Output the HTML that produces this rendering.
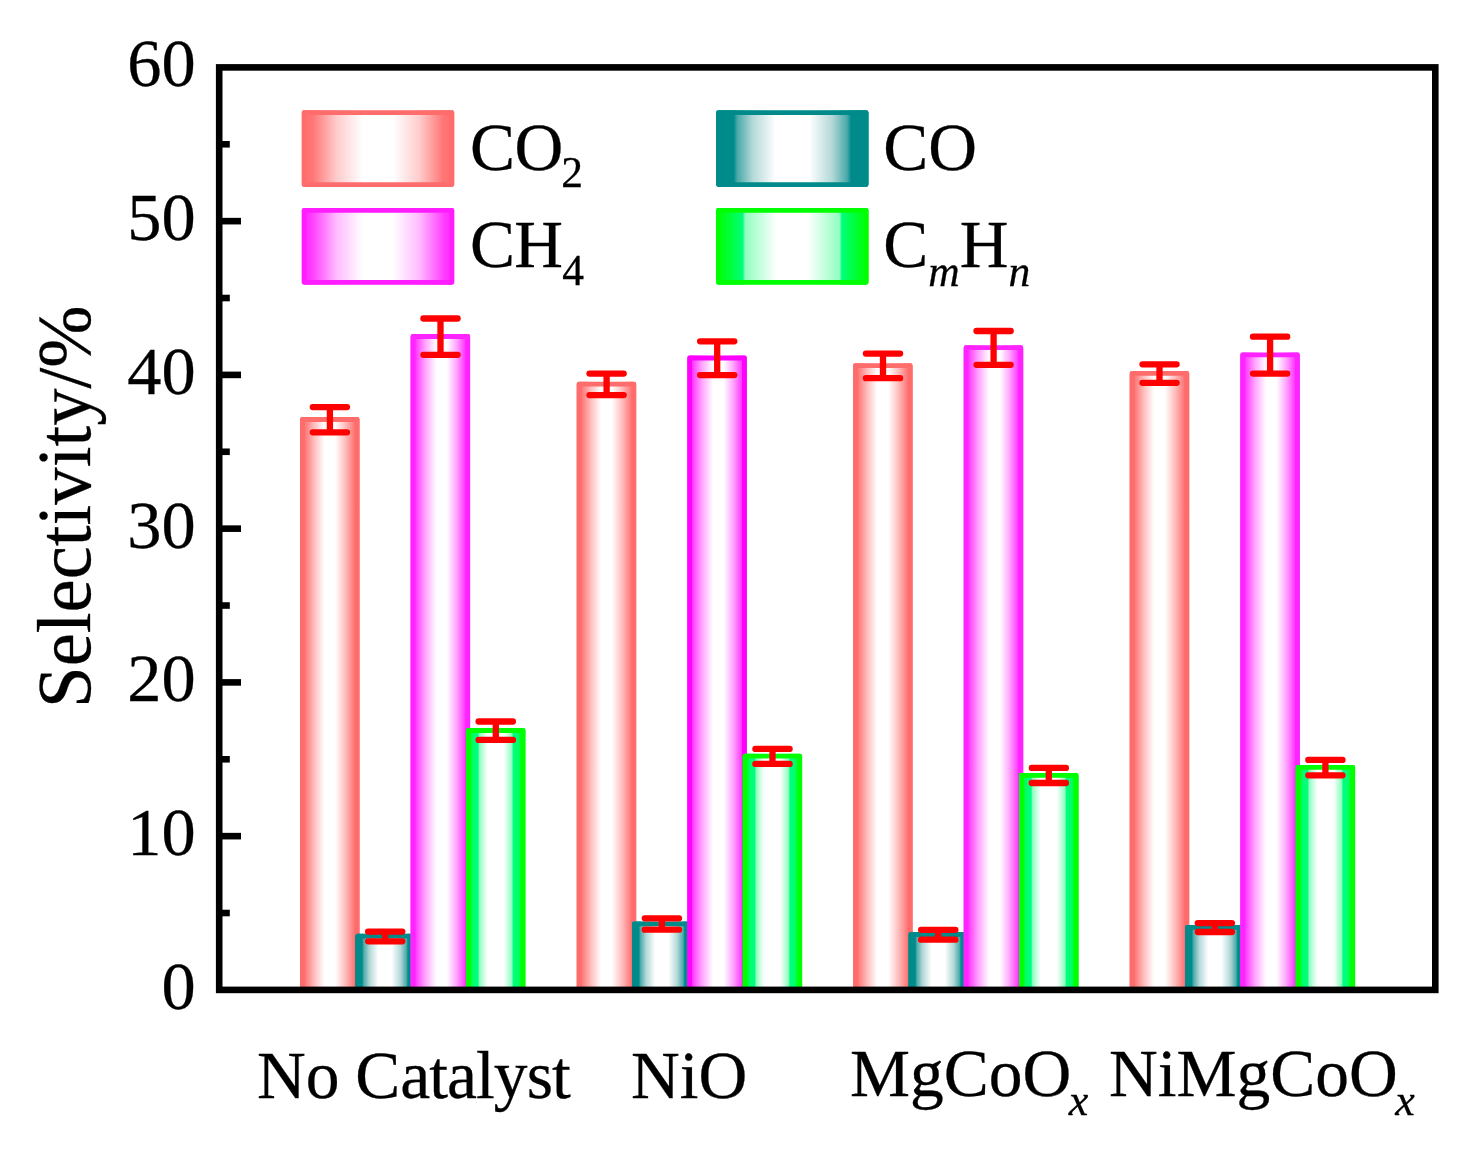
<!DOCTYPE html>
<html><head><meta charset="utf-8"><title>Selectivity</title>
<style>
html,body{margin:0;padding:0;background:#fff;}
svg{display:block;}
text{font-family:"Liberation Serif",serif;fill:#000;stroke:#000;stroke-width:0.3px;}
.it{font-style:italic;}
</style></head><body>
<svg width="1477" height="1154" viewBox="0 0 1477 1154">
<defs>
<linearGradient id="g0" x1="0" x2="1" y1="0" y2="0">
<stop offset="0" stop-color="#ff7070"/><stop offset="0.07" stop-color="#ff7575"/><stop offset="0.23" stop-color="#ffcccc"/><stop offset="0.40" stop-color="#fff"/><stop offset="0.60" stop-color="#fff"/><stop offset="0.77" stop-color="#ffcccc"/><stop offset="0.93" stop-color="#ff7575"/><stop offset="1" stop-color="#ff7070"/>
</linearGradient>
<linearGradient id="g1" x1="0" x2="1" y1="0" y2="0">
<stop offset="0" stop-color="#008b8b"/><stop offset="0.115" stop-color="#008b8b"/><stop offset="0.14" stop-color="#4aa9a9"/><stop offset="0.24" stop-color="#b4d8d8"/><stop offset="0.39" stop-color="#fff"/><stop offset="0.61" stop-color="#fff"/><stop offset="0.76" stop-color="#b4d8d8"/><stop offset="0.86" stop-color="#4aa9a9"/><stop offset="0.885" stop-color="#008b8b"/><stop offset="1" stop-color="#008b8b"/>
</linearGradient>
<linearGradient id="g2" x1="0" x2="1" y1="0" y2="0">
<stop offset="0" stop-color="#ff2cff"/><stop offset="0.06" stop-color="#ff38ff"/><stop offset="0.23" stop-color="#ffbcff"/><stop offset="0.40" stop-color="#fff"/><stop offset="0.60" stop-color="#fff"/><stop offset="0.77" stop-color="#ffbcff"/><stop offset="0.94" stop-color="#ff38ff"/><stop offset="1" stop-color="#ff2cff"/>
</linearGradient>
<linearGradient id="g3" x1="0" x2="1" y1="0" y2="0">
<stop offset="0" stop-color="#00ff00"/><stop offset="0.08" stop-color="#00ff30"/><stop offset="0.175" stop-color="#00ff7c"/><stop offset="0.19" stop-color="#90ffc0"/><stop offset="0.40" stop-color="#fff"/><stop offset="0.60" stop-color="#fff"/><stop offset="0.81" stop-color="#90ffc0"/><stop offset="0.825" stop-color="#00ff7c"/><stop offset="0.92" stop-color="#00ff30"/><stop offset="1" stop-color="#00ff00"/>
</linearGradient>
<linearGradient id="g3b" x1="0" x2="1" y1="0" y2="0">
<stop offset="0" stop-color="#00ff00"/><stop offset="0.06" stop-color="#00ff10"/><stop offset="0.12" stop-color="#00ff6c"/><stop offset="0.205" stop-color="#00ff80"/><stop offset="0.225" stop-color="#8cffbe"/><stop offset="0.365" stop-color="#fff"/><stop offset="0.635" stop-color="#fff"/><stop offset="0.775" stop-color="#8cffbe"/><stop offset="0.795" stop-color="#00ff80"/><stop offset="0.88" stop-color="#00ff6c"/><stop offset="0.94" stop-color="#00ff10"/><stop offset="1" stop-color="#00ff00"/>
</linearGradient>
<linearGradient id="g0b" x1="0" x2="1" y1="0" y2="0">
<stop offset="0" stop-color="#ff7070"/><stop offset="0.08" stop-color="#ff7474"/><stop offset="0.25" stop-color="#ffc2c2"/><stop offset="0.41" stop-color="#fff"/><stop offset="0.59" stop-color="#fff"/><stop offset="0.75" stop-color="#ffc2c2"/><stop offset="0.92" stop-color="#ff7474"/><stop offset="1" stop-color="#ff7070"/>
</linearGradient>
<linearGradient id="g2b" x1="0" x2="1" y1="0" y2="0">
<stop offset="0" stop-color="#ff28ff"/><stop offset="0.08" stop-color="#ff36ff"/><stop offset="0.25" stop-color="#ffa6ff"/><stop offset="0.435" stop-color="#fff"/><stop offset="0.61" stop-color="#fff"/><stop offset="0.77" stop-color="#ffa6ff"/><stop offset="0.92" stop-color="#ff36ff"/><stop offset="1" stop-color="#ff28ff"/>
</linearGradient>
</defs>
<rect x="0" y="0" width="1477" height="1154" fill="#fff"/>

<g stroke-linejoin="round">
<rect x="300.0" y="417.1" width="59.5" height="572.8" fill="url(#g0b)" rx="2.4"/>
<path d="M302.4 989.9 V419.5 H357.1 V989.9" fill="none" stroke="#ff6c6c" stroke-width="4.8"/>
<rect x="355.3" y="933.8" width="59.5" height="56.1" fill="url(#g1)" rx="2.4"/>
<path d="M357.7 989.9 V936.2 H412.4 V989.9" fill="none" stroke="#008a8a" stroke-width="4.8"/>
<rect x="410.6" y="334.1" width="59.5" height="655.8" fill="url(#g2b)" rx="2.4"/>
<path d="M413.0 989.9 V336.5 H467.7 V989.9" fill="none" stroke="#ff24ff" stroke-width="4.8"/>
<rect x="465.9" y="728.1" width="59.5" height="261.8" fill="url(#g3b)" rx="2.4"/>
<path d="M468.3 989.9 V730.5 H523.0 V989.9" fill="none" stroke="#00ff00" stroke-width="4.8"/>
<rect x="576.7" y="381.7" width="59.5" height="608.2" fill="url(#g0b)" rx="2.4"/>
<path d="M579.1 989.9 V384.1 H633.8 V989.9" fill="none" stroke="#ff6c6c" stroke-width="4.8"/>
<rect x="632.0" y="921.4" width="59.5" height="68.5" fill="url(#g1)" rx="2.4"/>
<path d="M634.4 989.9 V923.8 H689.1 V989.9" fill="none" stroke="#008a8a" stroke-width="4.8"/>
<rect x="687.3" y="355.6" width="59.5" height="634.3" fill="url(#g2b)" rx="2.4"/>
<path d="M689.7 989.9 V358.0 H744.4 V989.9" fill="none" stroke="#ff00ff" stroke-width="4.8"/>
<rect x="742.6" y="753.8" width="59.5" height="236.1" fill="url(#g3b)" rx="2.4"/>
<path d="M745.0 989.9 V756.2 H799.7 V989.9" fill="none" stroke="#00ff00" stroke-width="4.8"/>
<rect x="853.1" y="363.3" width="59.5" height="626.6" fill="url(#g0b)" rx="2.4"/>
<path d="M855.5 989.9 V365.7 H910.2 V989.9" fill="none" stroke="#ff6c6c" stroke-width="4.8"/>
<rect x="908.4" y="932.1" width="59.5" height="57.8" fill="url(#g1)" rx="2.4"/>
<path d="M910.8 989.9 V934.5 H965.5 V989.9" fill="none" stroke="#008a8a" stroke-width="4.8"/>
<rect x="963.7" y="345.3" width="59.5" height="644.6" fill="url(#g2b)" rx="2.4"/>
<path d="M966.1 989.9 V347.7 H1020.8 V989.9" fill="none" stroke="#ff24ff" stroke-width="4.8"/>
<rect x="1019.0" y="772.9" width="59.5" height="217.0" fill="url(#g3b)" rx="2.4"/>
<path d="M1021.4 989.9 V775.3 H1076.1 V989.9" fill="none" stroke="#00ff00" stroke-width="4.8"/>
<rect x="1129.7" y="371.0" width="59.5" height="618.9" fill="url(#g0b)" rx="2.4"/>
<path d="M1132.1 989.9 V373.4 H1186.8 V989.9" fill="none" stroke="#ff6c6c" stroke-width="4.8"/>
<rect x="1185.0" y="924.9" width="59.5" height="65.0" fill="url(#g1)" rx="2.4"/>
<path d="M1187.4 989.9 V927.3 H1242.1 V989.9" fill="none" stroke="#008a8a" stroke-width="4.8"/>
<rect x="1240.3" y="352.5" width="59.5" height="637.4" fill="url(#g2b)" rx="2.4"/>
<path d="M1242.7 989.9 V354.9 H1297.4 V989.9" fill="none" stroke="#ff24ff" stroke-width="4.8"/>
<rect x="1295.6" y="765.0" width="59.5" height="224.9" fill="url(#g3b)" rx="2.4"/>
<path d="M1298.0 989.9 V767.4 H1352.7 V989.9" fill="none" stroke="#00ff00" stroke-width="4.8"/>
</g>
<g stroke="#ff0000" stroke-width="6.3" stroke-linecap="round" fill="none">
<path d="M312.8 407.1H347.0M312.8 432.3H347.0M329.9 407.1V432.3" />
<path d="M368.1 931.6H402.3M368.1 941.3H402.3M385.2 931.6V941.3" />
<path d="M423.4 318.5H457.6M423.4 354.8H457.6M440.5 318.5V354.8" />
<path d="M478.6 721.5H512.9M478.6 739.9H512.9M495.8 721.5V739.9" />
<path d="M589.5 373.6H623.7M589.5 395.1H623.7M606.6 373.6V395.1" />
<path d="M644.8 918.3H679.0M644.8 929.7H679.0M661.9 918.3V929.7" />
<path d="M700.1 341.3H734.3M700.1 375.1H734.3M717.2 341.3V375.1" />
<path d="M755.4 748.9H789.6M755.4 763.9H789.6M772.5 748.9V763.9" />
<path d="M865.9 353.6H900.1M865.9 378.2H900.1M883.0 353.6V378.2" />
<path d="M921.1 929.8H955.4M921.1 939.7H955.4M938.2 929.8V939.7" />
<path d="M976.5 331.0H1010.7M976.5 364.8H1010.7M993.6 331.0V364.8" />
<path d="M1031.8 767.9H1065.9M1031.8 783.0H1065.9M1048.8 767.9V783.0" />
<path d="M1142.5 364.3H1176.6M1142.5 382.8H1176.6M1159.5 364.3V382.8" />
<path d="M1197.8 923.1H1231.9M1197.8 932.0H1231.9M1214.8 923.1V932.0" />
<path d="M1253.0 336.7H1287.2M1253.0 373.6H1287.2M1270.1 336.7V373.6" />
<path d="M1308.3 759.9H1342.5M1308.3 775.3H1342.5M1325.4 759.9V775.3" />
</g>
<g stroke-linejoin="round">
<rect x="301.8" y="110.2" width="152.4" height="76.8" fill="url(#g0)" rx="2.4"/>
<rect x="304.2" y="112.60000000000001" width="147.6" height="72.0" fill="none" stroke="#ff6c6c" stroke-width="4.8"/>
<rect x="301.8" y="207.9" width="152.4" height="76.8" fill="url(#g2)" rx="2.4"/>
<rect x="304.2" y="210.3" width="147.6" height="72.0" fill="none" stroke="#ff1cff" stroke-width="4.8"/>
<rect x="716.1" y="110.2" width="152.4" height="76.8" fill="url(#g1)" rx="2.4"/>
<rect x="718.5" y="112.60000000000001" width="147.6" height="72.0" fill="none" stroke="#008a8a" stroke-width="4.8"/>
<rect x="716.1" y="207.9" width="152.4" height="76.8" fill="url(#g3)" rx="2.4"/>
<rect x="718.5" y="210.3" width="147.6" height="72.0" fill="none" stroke="#00ff00" stroke-width="4.8"/>
</g>
<g stroke="#000" stroke-width="6.6" fill="none">
<rect x="219.2" y="67.4" width="1216.1" height="922.5"/>
<path d="M219.2 913.02H229.8"/>
<path d="M219.2 836.15H241"/>
<path d="M219.2 759.27H229.8"/>
<path d="M219.2 682.40H241"/>
<path d="M219.2 605.52H229.8"/>
<path d="M219.2 528.65H241"/>
<path d="M219.2 451.77H229.8"/>
<path d="M219.2 374.90H241"/>
<path d="M219.2 298.02H229.8"/>
<path d="M219.2 221.15H241"/>
<path d="M219.2 144.27H229.8"/>
</g>
<text x="195.6" y="1008.8" font-size="68.4" text-anchor="end">0</text>
<text x="195.6" y="855.0" font-size="68.4" text-anchor="end">10</text>
<text x="195.6" y="701.3" font-size="68.4" text-anchor="end">20</text>
<text x="195.6" y="547.5" font-size="68.4" text-anchor="end">30</text>
<text x="195.6" y="393.8" font-size="68.4" text-anchor="end">40</text>
<text x="195.6" y="240.0" font-size="68.4" text-anchor="end">50</text>
<text x="195.6" y="86.3" font-size="68.4" text-anchor="end">60</text>
<text transform="translate(89.8 506.7) rotate(-90) scale(1,1.015)" font-size="74.7" text-anchor="middle">Selectivity/%</text>
<text x="257" y="1098.3" font-size="67.5">No <tspan dx="-1.2">C</tspan><tspan letter-spacing="-0.95">atalyst</tspan></text>
<text x="631" y="1098.3" font-size="67.5">NiO</text>
<text x="850" y="1096.3" font-size="67.5">MgCoO<tspan class="it" font-size="44" dy="18.3" dx="-2.5">x</tspan></text>
<text x="1109" y="1096.3" font-size="67.5">NiMgCoO<tspan class="it" font-size="44" dy="18.3" dx="-2.5">x</tspan></text>
<text x="470" y="169.8" font-size="67.5"><tspan letter-spacing="-0.6">CO</tspan><tspan font-size="43.5" dy="17.2" dx="-1.4">2</tspan></text>
<text x="470" y="267.1" font-size="67.5"><tspan letter-spacing="-0.8">CH</tspan><tspan font-size="43.5" dy="18.1" dx="0">4</tspan></text>
<text x="883.3" y="169.8" font-size="67.5">CO</text>
<text x="883.3" y="267.1" font-size="67.5">C<tspan class="it" font-size="43.5" dy="19">m</tspan><tspan dy="-19">H</tspan><tspan class="it" font-size="43.5" dy="19">n</tspan></text>
</svg></body></html>
